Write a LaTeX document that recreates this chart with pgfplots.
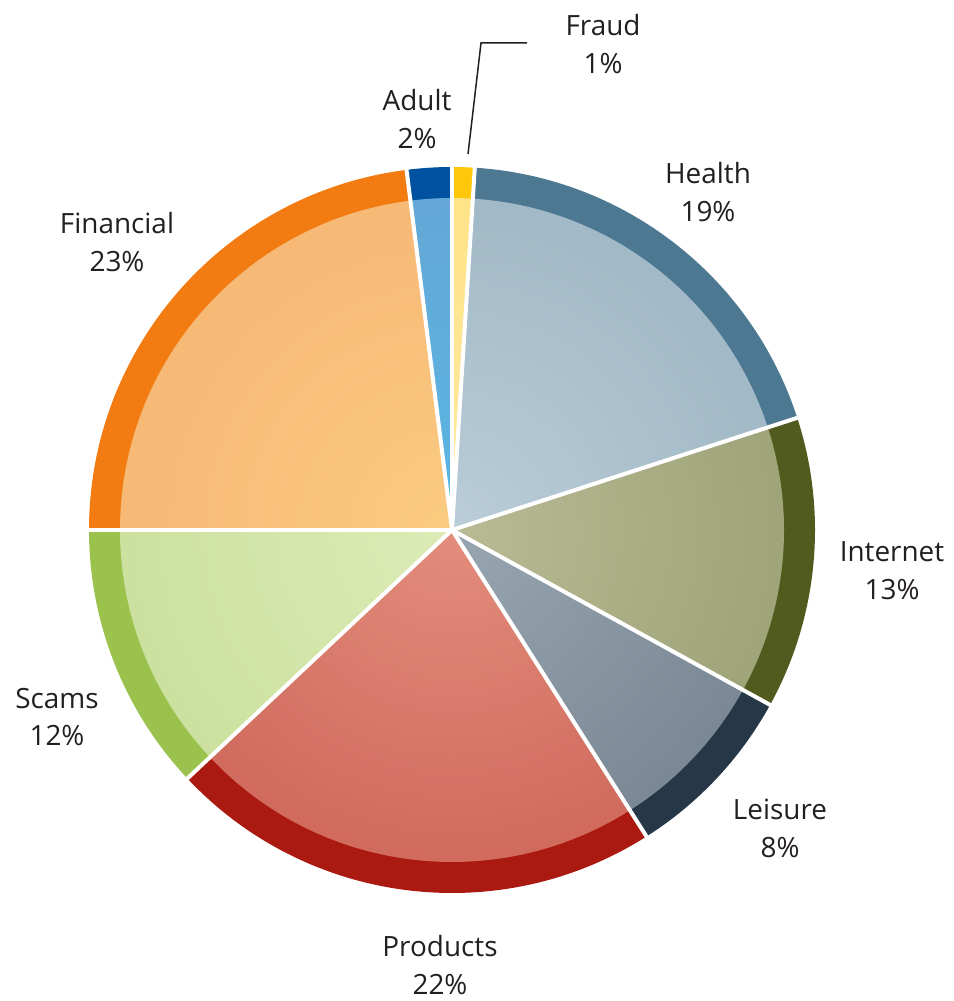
\documentclass[border=0pt]{standalone}
\usepackage{pgfplots}
\pgfplotsset{compat=1.18}
\usepackage{fontspec}
\setmainfont{Open Sans}

% outer ring / inner centre / inner edge
\definecolor{frO}{HTML}{FFC70A}\definecolor{frC}{HTML}{FEE9A0}\definecolor{frE}{HTML}{FDDC70}
\definecolor{heO}{HTML}{4D7892}\definecolor{heC}{HTML}{BACDD8}\definecolor{heE}{HTML}{89A4B5}
\definecolor{inO}{HTML}{525B1E}\definecolor{inC}{HTML}{B8BB94}\definecolor{inE}{HTML}{878C5E}
\definecolor{leO}{HTML}{263847}\definecolor{leC}{HTML}{98A6B1}\definecolor{leE}{HTML}{5B6B78}
\definecolor{prO}{HTML}{AA1A10}\definecolor{prC}{HTML}{E38D7C}\definecolor{prE}{HTML}{BC483E}
\definecolor{scO}{HTML}{9BC24C}\definecolor{scC}{HTML}{DDEBB6}\definecolor{scE}{HTML}{BAD787}
\definecolor{fiO}{HTML}{F27C12}\definecolor{fiC}{HTML}{FACB80}\definecolor{fiE}{HTML}{F3A66C}
\definecolor{adO}{HTML}{0051A0}\definecolor{adC}{HTML}{58B6E2}\definecolor{adE}{HTML}{709ACB}
\definecolor{txt}{HTML}{231F20}

% #1 cumulative start (%), #2 cumulative end (%), #3 outer, #4 inner centre, #5 inner edge
\newcommand{\slice}[5]{%
  \fill[#3] (axis cs:452,471) -- ++({90-3.6*#1}:363bp)
     arc[start angle={90-3.6*#1}, end angle={90-3.6*#2}, radius=363bp] -- cycle;
  \begin{scope}
    \clip (axis cs:452,471) -- ++({90-3.6*#1}:332bp)
       arc[start angle={90-3.6*#1}, end angle={90-3.6*#2}, radius=332bp] -- cycle;
    \shade[inner color=#4, outer color=#5] (axis cs:452,471) circle[radius=664bp];
  \end{scope}
}

\begin{document}
\begin{tikzpicture}
\begin{axis}[
  scale only axis, width=953bp, height=1001bp,
  xmin=0, xmax=953, ymin=0, ymax=1001,
  hide axis, clip=false,
]
% values: Fraud 1, Health 19, Internet 13, Leisure 8, Products 22, Scams 12, Financial 23, Adult 2
\slice{0}{1}{frO}{frC}{frE}
\slice{1}{20}{heO}{heC}{heE}
\slice{20}{33}{inO}{inC}{inE}
\slice{33}{41}{leO}{leC}{leE}
\slice{41}{63}{prO}{prC}{prE}
\slice{63}{75}{scO}{scC}{scE}
\slice{75}{98}{fiO}{fiC}{fiE}
\slice{98}{100}{adO}{adC}{adE}
\pgfplotsinvokeforeach{0,1,20,33,41,63,75,98}{
  \draw[white, line width=4bp] (axis cs:452,471) -- ++({90-3.6*#1}:372bp);
}
\draw[txt, line width=1.5bp] (axis cs:468,847) -- (axis cs:481,958) -- (axis cs:527,958);
\tikzset{lab/.style={align=center, text=txt, font=\fontsize{28}{38}\selectfont, inner sep=0pt}}
\node[lab] at (axis cs:603,957) {Fraud\\1\%};
\node[lab] at (axis cs:417,882) {Adult\\2\%};
\node[lab] at (axis cs:708,809) {Health\\19\%};
\node[lab] at (axis cs:117,759) {Financial\\23\%};
\node[lab] at (axis cs:892,430) {Internet\\13\%};
\node[lab] at (axis cs:57,284) {Scams\\12\%};
\node[lab] at (axis cs:780,173) {Leisure\\8\%};
\node[lab] at (axis cs:440,36) {Products\\22\%};
\end{axis}
\pgfresetboundingbox
\path (current axis.south west) rectangle (current axis.north east);
\end{tikzpicture}
\end{document}
